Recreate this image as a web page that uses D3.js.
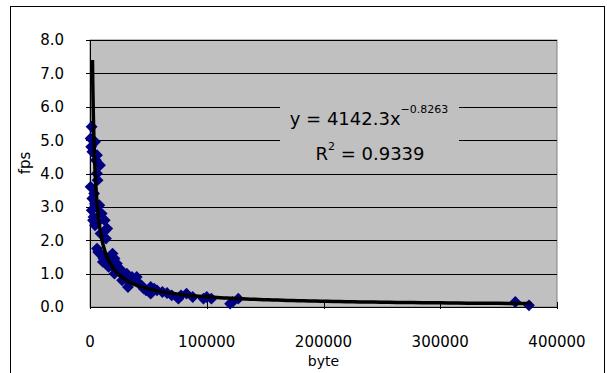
<!DOCTYPE html>
<html>
<head>
<meta charset="utf-8">
<script src="https://cdn.jsdelivr.net/npm/d3@7"></script>
<style>
  body { margin: 0; background: #fff; }
  svg { display: block; }
</style>
</head>
<body>
<div id="chart"></div>
<script>
// data
const bytes = [1400, 500, 4300, 2000, 6000, 8600, 6000, 6500, 500, 2000, 4300, 8000,
  10000, 2600, 12600, 4300, 14800, 13700, 6000, 8500, 10000, 11000, 19300, 21000,
  23000, 21000, 26800, 30500, 36000, 40000, 32500, 44000, 52000, 52000, 57400, 66000,
  75700, 82700, 97200, 104000, 122000, 127000, 364300, 376000,
  3000, 5000, 9000, 16000, 28000, 34000, 38000, 46000, 62000, 70000, 78000, 100000, 88000, 120000,
  1000, 3500, 7000, 1500, 5500, 11500, 13000, 17500, 18500, 24500, 27500, 31500, 42000, 48000, 55000];
const fps = [5.4, 5.05, 4.95, 4.65, 4.55, 4.25, 4.0, 3.8, 3.6, 3.25, 3.1, 3.05,
  2.8, 2.6, 2.6, 2.45, 2.35, 2.05, 1.75, 1.6, 1.55, 1.35, 1.6, 1.45,
  1.3, 1.0, 1.1, 0.85, 0.9, 0.9, 0.6, 0.65, 0.6, 0.4, 0.5, 0.42,
  0.25, 0.4, 0.25, 0.25, 0.15, 0.25, 0.15, 0.05,
  2.7, 4.4, 2.2, 1.2, 0.95, 0.75, 0.8, 0.55, 0.45, 0.35, 0.35, 0.3, 0.3, 0.1,
  4.8, 3.4, 1.65, 2.9, 2.5, 1.45, 2.3, 1.5, 1.25, 1.15, 0.8, 1.0, 0.7, 0.5, 0.55];
const xTicks = [0, 100000, 200000, 300000, 400000];
const yTicks = [0, 1, 2, 3, 4, 5, 6, 7, 8];

// power trendline shown in the label
const coefA = 4142.3;
const coefB = -0.8263;
const rSquared = 0.9339;

const width = 607, height = 373;
const plot = { left: 90, right: 557, top: 40, bottom: 307 };

const svg = d3.select("#chart").append("svg")
  .attr("width", width)
  .attr("height", height)
  .attr("font-family", "'DejaVu Sans', sans-serif");

// chart area border
svg.append("rect")
  .attr("x", 10.5).attr("y", 6.5)
  .attr("width", 594).attr("height", 390)
  .attr("fill", "#fff")
  .attr("stroke", "#000");

const x = d3.scaleLinear().domain([0, 400000]).range([plot.left, plot.right]);
const y = d3.scaleLinear().domain([0, 8]).range([plot.bottom, plot.top]);

// plot area
svg.append("rect")
  .attr("x", plot.left).attr("y", plot.top)
  .attr("width", plot.right - plot.left).attr("height", plot.bottom - plot.top)
  .attr("fill", "#c0c0c0")
  .attr("stroke", "#808080");

// gridlines
svg.append("g").selectAll("line")
  .data(yTicks.filter(d => d > 0))
  .join("line")
  .attr("x1", plot.left - 4).attr("x2", plot.right)
  .attr("y1", d => Math.round(y(d)) + 0.5).attr("y2", d => Math.round(y(d)) + 0.5)
  .attr("stroke", "#000");

// y axis
svg.append("line")
  .attr("x1", plot.left + 0.5).attr("x2", plot.left + 0.5)
  .attr("y1", plot.top).attr("y2", plot.bottom)
  .attr("stroke", "#000");
svg.append("g").selectAll("text")
  .data(yTicks)
  .join("text")
  .attr("x", 64)
  .attr("y", d => y(d))
  .attr("dy", "0.36em")
  .attr("text-anchor", "end")
  .attr("font-size", 15)
  .text(d => d.toFixed(1));

// x axis
svg.append("line")
  .attr("x1", plot.left).attr("x2", plot.right)
  .attr("y1", plot.bottom + 0.5).attr("y2", plot.bottom + 0.5)
  .attr("stroke", "#000");
svg.append("g").selectAll("line")
  .data(xTicks)
  .join("line")
  .attr("x1", d => Math.round(x(d)) + 0.5).attr("x2", d => Math.round(x(d)) + 0.5)
  .attr("y1", plot.bottom - 5).attr("y2", plot.bottom + 2)
  .attr("stroke", "#000");
svg.append("g").selectAll("text")
  .data(xTicks)
  .join("text")
  .attr("x", d => x(d))
  .attr("y", 347)
  .attr("text-anchor", "middle")
  .attr("font-size", 15)
  .text(d => d);

// axis titles
svg.append("text")
  .attr("x", (plot.left + plot.right) / 2)
  .attr("y", 366)
  .attr("text-anchor", "middle")
  .attr("font-size", 14)
  .text("byte");
svg.append("text")
  .attr("transform", "translate(30,163) rotate(-90)")
  .attr("text-anchor", "middle")
  .attr("font-size", 15)
  .text("fps");

// points
const points = bytes.map((b, i) => ({ b, f: fps[i] }));
const diamond = d3.symbol().type(d3.symbolSquare).size(70);
svg.append("g").selectAll("path")
  .data(points)
  .join("path")
  .attr("d", diamond)
  .attr("transform", d => `translate(${x(d.b)},${y(d.f)}) rotate(45)`)
  .attr("fill", "#000080");

// trendline y = a * x^b
const xStart = Math.pow(7.4 / coefA, 1 / coefB);
const trend = d3.range(0, 201).map(i => {
  const t = xStart * Math.pow(378000 / xStart, i / 200);
  return [t, coefA * Math.pow(t, coefB)];
});
svg.append("path")
  .datum(trend)
  .attr("fill", "none")
  .attr("stroke", "#000")
  .attr("stroke-width", 3.5)
  .attr("d", d3.line().x(d => x(d[0])).y(d => y(d[1])));

// equation label
svg.append("rect")
  .attr("x", 280).attr("y", 100)
  .attr("width", 179).attr("height", 70)
  .attr("fill", "#c0c0c0");
const eq = svg.append("text")
  .attr("x", 369).attr("y", 125)
  .attr("text-anchor", "middle")
  .attr("font-size", 18);
eq.append("tspan").text(`y = ${coefA}x`);
eq.append("tspan").attr("dy", -12).attr("font-size", 11).text(`\u2212${Math.abs(coefB)}`);
const r2 = svg.append("text")
  .attr("x", 370).attr("y", 160)
  .attr("text-anchor", "middle")
  .attr("font-size", 18);
r2.append("tspan").text("R");
r2.append("tspan").attr("dy", -10).attr("font-size", 11).text("2");
r2.append("tspan").attr("dy", 10).text(` = ${rSquared}`);
</script>
</body>
</html>
